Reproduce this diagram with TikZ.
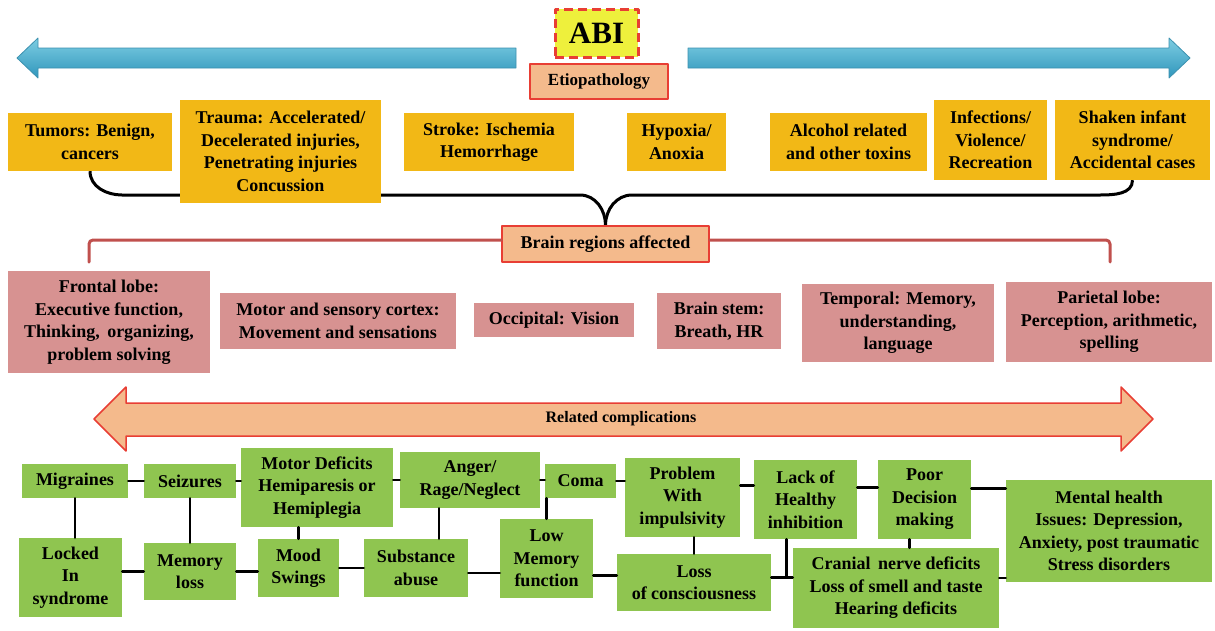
\documentclass[tikz,border=0pt]{standalone}
\usepackage{fontspec}
\setmainfont{Liberation Serif}
\usetikzlibrary{calc}
\usetikzlibrary{backgrounds}
\definecolor{causeyellow}{RGB}{242,184,22}
\definecolor{regionpink}{RGB}{215,146,145}
\definecolor{complgreen}{RGB}{143,197,80}
\definecolor{titlepeach}{RGB}{244,186,140}
\definecolor{titlered}{RGB}{232,62,52}
\definecolor{abiyellow}{RGB}{238,240,60}
\definecolor{regionline}{RGB}{192,80,77}
\definecolor{bluetop}{RGB}{125,205,226}
\definecolor{bluebottom}{RGB}{48,150,188}
\definecolor{blueedge}{RGB}{60,145,175}

\begin{document}
\begin{tikzpicture}[line cap=round,line join=round,x=1pt,y=1pt,
  font=\fontsize{18}{22.5}\selectfont\bfseries,
  box/.style={inner sep=0pt,align=center,text=black},
  cause/.style={box,fill=causeyellow},
  region/.style={box,fill=regionpink},
  compl/.style={box,fill=complgreen},
  title/.style={box,fill=titlepeach,draw=titlered,line width=1.5pt},
  link/.style={line width=2.4pt,black},
  bracket/.style={line width=3pt,black},
  regionlink/.style={line width=3pt,regionline,rounded corners=4pt}]
\useasboundingbox (0,0) rectangle (1215,-630);
% blue arrows
\shade[top color=bluetop,bottom color=bluebottom,draw=blueedge,line width=0.8pt] (516,-48) -- (38,-48) -- (38,-38) -- (17,-58) -- (38,-78) -- (38,-68) -- (516,-68) -- cycle;
\shade[top color=bluetop,bottom color=bluebottom,draw=blueedge,line width=0.8pt] (688,-48) -- (1169,-48) -- (1169,-38) -- (1190,-58) -- (1169,-78) -- (1169,-68) -- (688,-68) -- cycle;
\node[box,fill=abiyellow,draw=titlered,line width=3pt,line cap=butt,dash pattern=on 9pt off 5pt,minimum width=83,minimum height=48,font=\fontsize{31}{31}\selectfont\bfseries] (abi) at (596.5,-33) {ABI};
\node[title,minimum width=138,minimum height=35,font=\fontsize{17}{20}\selectfont\bfseries] (etio) at (599,-81.5) {Etiopathology};
% causes
\node[cause,minimum width=164,minimum height=58] (tumors) at (90,-142) {Tumors: Benign,\\ cancers};
\node[cause,minimum width=201,minimum height=103] (trauma) at (280.5,-151.5) {Trauma: Accelerated/\\ Decelerated injuries,\\ Penetrating injuries\\ Concussion};
\node[cause,minimum width=170,minimum height=58] (stroke) at (489,-142) {Stroke: Ischemia\\ Hemorrhage};
\node[cause,minimum width=99,minimum height=58] (hypoxia) at (676.5,-142) {Hypoxia/\\ Anoxia};
\node[cause,minimum width=157,minimum height=58] (alcohol) at (848.5,-142) {Alcohol related\\ and other toxins};
\node[cause,minimum width=113,minimum height=80] (infect) at (990.5,-140) {Infections/\\ Violence/\\ Recreation};
\node[cause,minimum width=155,minimum height=80] (shaken) at (1132.5,-140) {Shaken infant\\ syndrome/\\ Accidental cases};
% brain regions
\node[title,minimum width=207,minimum height=36,font=\fontsize{18}{20}\selectfont\bfseries] (brain) at (605.5,-244) {Brain regions affected};
\begin{scope}[on background layer]
\draw[bracket] (tumors.south) to[out=-90,in=180] (122,-195) -- (580,-195) to[out=0,in=90] (brain.north);
\draw[bracket] (shaken.south) to[out=-90,in=0] (1100,-195) -- (632,-195) to[out=180,in=90] (brain.north);
\end{scope}
\coordinate (lend) at (89,-262);
\coordinate (rend) at (1110,-262);
\draw[regionlink] ([yshift=4]brain.west) -| (lend);
\draw[regionlink] ([yshift=4]brain.east) -| (rend);
\node[region,minimum width=202,minimum height=102] (frontal) at (109,-322) {Frontal lobe:\\ Executive function,\\ Thinking,\, organizing,\\ problem solving};
\node[region,minimum width=236,minimum height=56] (motor) at (338,-321) {Motor and sensory cortex:\\ Movement and sensations};
\node[region,minimum width=160,minimum height=34] (occip) at (554,-320) {Occipital: Vision};
\node[region,minimum width=124,minimum height=56] (stem) at (719,-321) {Brain stem:\\ Breath, HR};
\node[region,minimum width=192,minimum height=78] (temporal) at (898,-323) {Temporal: Memory,\\ understanding,\\ language};
\node[region,minimum width=206,minimum height=80] (parietal) at (1109,-322) {Parietal lobe:\\ Perception, arithmetic,\\ spelling};
% complications arrow
\filldraw[fill=titlepeach,draw=titlered,line width=1.5pt] (94,-419) -- (126,-387) -- (126,-403) -- (1121,-403) -- (1121,-387) -- (1153,-419) -- (1121,-451) -- (1121,-436) -- (126,-436) -- (126,-451) -- cycle;
\node[box,font=\fontsize{16}{20}\selectfont\bfseries] (related) at (621,-419) {Related complications};
% complications
\node[compl,minimum width=106,minimum height=34] (migr) at (75,-481) {Migraines};
\node[compl,minimum width=92,minimum height=34] (seiz) at (190,-481) {Seizures};
\node[compl,minimum width=152,minimum height=79] (motdef) at (317,-487.5) {Motor Deficits\\ Hemiparesis or\\ Hemiplegia};
\node[compl,minimum width=140,minimum height=56] (anger) at (470,-480) {Anger/\\ Rage/Neglect};
\node[compl,minimum width=71,minimum height=34] (coma) at (580.5,-481) {Coma};
\node[compl,minimum width=115,minimum height=79] (probl) at (682.5,-497.5) {Problem\\ With\\ impulsivity};
\node[compl,minimum width=103,minimum height=79] (lack) at (805.5,-499.5) {Lack of\\ Healthy\\ inhibition};
\node[compl,minimum width=93,minimum height=79] (poor) at (924.5,-499.5) {Poor\\ Decision\\ making};
\node[compl,minimum width=206,minimum height=102] (mental) at (1109,-531) {Mental health\\ Issues: Depression,\\ Anxiety, post traumatic\\ Stress disorders};
\node[compl,minimum width=103,minimum height=79] (locked) at (70.5,-577.5) {Locked\\ In\\ syndrome};
\node[compl,minimum width=92,minimum height=57] (memloss) at (190,-571.5) {Memory\\ loss};
\node[compl,minimum width=81,minimum height=58] (mood) at (298.5,-568) {Mood\\ Swings};
\node[compl,minimum width=104,minimum height=58] (subst) at (416,-568) {Substance\\ abuse};
\node[compl,minimum width=93,minimum height=79] (lowmem) at (546.5,-558.5) {Low\\ Memory\\ function};
\node[compl,minimum width=154,minimum height=57] (lossc) at (694,-582.5) {Loss\\ of consciousness};
\node[compl,minimum width=206,minimum height=80] (cranial) at (896,-588) {Cranial\, nerve deficits\\ Loss of smell and taste\\ Hearing deficits};
% top row links
\draw[link] (migr.east) -- (migr.east -| seiz.west);
\draw[link] (seiz.east) -- (seiz.east -| motdef.west);
\draw[link] (anger.west -| motdef.east) -- (anger.west);
\draw[link] (anger.east) -- (anger.east -| coma.west);
\draw[link] (coma.east) -- (coma.east -| probl.west);
\draw[link] ([yshift=12]probl.east) -- ([yshift=12]probl.east -| lack.west);
\draw[link] ([yshift=12]lack.east) -- ([yshift=12]lack.east -| poor.west);
\draw[link] ([yshift=11]poor.east) -- ([yshift=11]poor.east -| mental.west);
% bottom row links
\draw[link] (memloss.west -| locked.east) -- (memloss.west);
\draw[link] (memloss.east) -- (memloss.east -| mood.west);
\draw[link] (mood.east) -- (mood.east -| subst.west);
\draw[link] ([yshift=-5]subst.east) -- ([yshift=-5]subst.east -| lowmem.west);
\draw[link] ([yshift=7]lossc.west -| lowmem.east) -- ([yshift=7]lossc.west);
\draw[link] ([yshift=5]lossc.east) -- ([yshift=5]lossc.east -| cranial.west);
\draw[link] ([yshift=10]cranial.east) -- ([yshift=10]cranial.east -| mental.west);
% vertical links
\draw[link] (migr.south) -- (migr.south |- locked.north);
\draw[link] (seiz.south) -- (memloss.north);
\draw[link] (mood.north) -- (mood.north |- motdef.south);
\draw[link] ([xshift=-31]anger.south) -- ([xshift=-31]anger.south |- subst.north);
\draw[link] (lowmem.north) -- (lowmem.north |- coma.south);
\draw[link] (lossc.north) -- (lossc.north |- probl.south);
\draw[link] ([xshift=-19]lack.south) -- ([xshift=-19,yshift=5]lack.south |- lossc.east);
\draw[link] ([xshift=-15]poor.south) -- ([xshift=-15]poor.south |- cranial.north);
\end{tikzpicture}
\end{document}
